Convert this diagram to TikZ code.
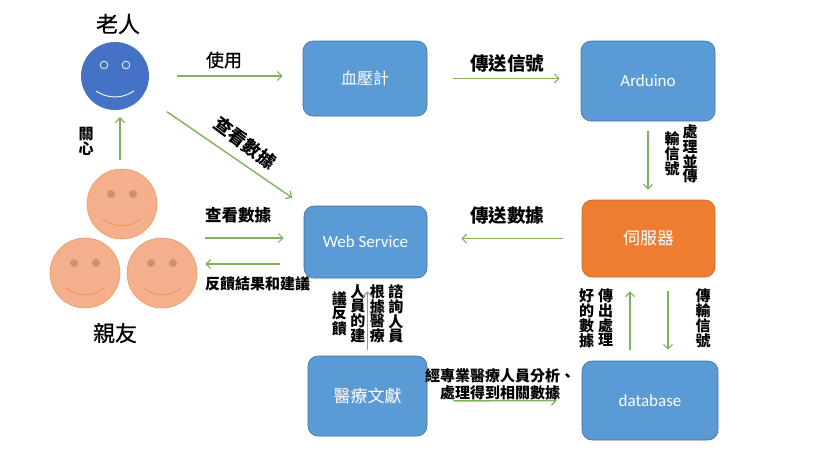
\documentclass[tikz,border=0pt]{standalone}
\usepackage{fontspec}
\setmainfont{Noto Sans CJK TC}
\newfontfamily\latinfont{Carlito}
\newfontfamily\midfont[FakeBold=0.6]{Noto Sans CJK TC}
\usetikzlibrary{arrows.meta}
\definecolor{boxblue}{HTML}{5B9BD5}
\definecolor{boxedge}{HTML}{41719C}
\definecolor{srvorange}{HTML}{ED7D31}
\definecolor{srvedge}{HTML}{C96A2A}
\definecolor{faceblue}{HTML}{4472C4}
\definecolor{facepeach}{HTML}{F4AF8C}
\definecolor{eyepeach}{HTML}{CB9273}
\definecolor{flowgreen}{HTML}{7FB25F}
\tikzset{
	flowbox/.style={draw=boxedge,fill=boxblue,rounded corners=10pt,text=white,inner sep=0pt,line width=.6pt},
	elderface/.style={circle,fill=faceblue,minimum size=68pt,inner sep=0pt},
	friendface/.style={circle,draw=srvorange!80!white,fill=facepeach,minimum size=70pt,inner sep=0pt,line width=.6pt},
	flow/.style={draw=flowgreen,line width=1.4pt,-{Straight Barb[length=4.5pt,width=9pt,line width=1.2pt]}},
	lbl/.style={font=\fontsize{15}{17}\selectfont\bfseries,inner sep=0pt,align=center},
	biglbl/.style={font=\fontsize{18.5}{20}\selectfont\bfseries,inner sep=0pt}
}
% one column of upright text, top to bottom
\newcommand{\vcol}[1]{\begin{tabular}{@{}c@{}}#1\end{tabular}}
\begin{document}
\begin{tikzpicture}[x=1pt,y=-1pt]
	\useasboundingbox (0,0) rectangle (817,474);
	% the boxes
	\node[flowbox,minimum width=124pt,minimum height=75pt,font=\fontsize{16}{18}\selectfont](meter) at (365,78.5) {血壓計};
	\node[flowbox,minimum width=134pt,minimum height=80pt,font=\fontsize{17}{19}\selectfont\latinfont](arduino) at (648,81) {Arduino};
	\node[flowbox,draw=srvedge,fill=srvorange,minimum width=133pt,minimum height=77pt,font=\fontsize{17}{19}\selectfont](server) at (648.5,238.5) {伺服器};
	\node[flowbox,minimum width=123pt,minimum height=72pt,font=\fontsize{17}{19}\selectfont\latinfont](web) at (365.5,242) {Web Service};
	\node[flowbox,minimum width=119pt,minimum height=80pt,font=\fontsize{17}{19}\selectfont](doc) at (367.5,396) {醫療文獻};
	\node[flowbox,minimum width=136pt,minimum height=79pt,font=\fontsize{17}{19}\selectfont\latinfont](db) at (650,400.5) {database};
	% the faces
	\node[elderface](elder) at (115,76) {};
	\node[friendface](ftop) at (122,204) {};
	\node[friendface](fleft) at (85,273) {};
	\node[friendface](fright) at (162,273) {};
	\foreach \s in {-11,11}
		\draw[draw=white!85!faceblue,line width=.9pt] ([shift={(\s,-11)}]elder.center) circle (3.8pt);
	\draw[white,line width=.9pt] ([shift={(-19,15)}]elder.center) .. controls ([shift={(-7,23)}]elder.center) and ([shift={(7,23)}]elder.center) .. ([shift={(19,15)}]elder.center);
	\foreach \f in {ftop,fleft,fright} {
		\foreach \s in {-11,11}
			\fill[eyepeach] ([shift={(\s,-10)}]\f.center) circle (4pt);
		\draw[srvorange!85!white,line width=.8pt] ([shift={(-19,15)}]\f.center) .. controls ([shift={(-7,24)}]\f.center) and ([shift={(7,24)}]\f.center) .. ([shift={(19,15)}]\f.center);
	}
	% this label lies under its arrow
	\node[lbl](advlbl) at (367.5,315.5) {\vcol{議\\[-3pt]反\\[-3pt]饋}\hspace{3.5pt}\vcol{人\\[-3pt]員\\[-3pt]的\\[-3pt]建}\hspace{4.5pt}\vcol{根\\[-3pt]據\\[-3pt]醫\\[-3pt]療}\hspace{3.5pt}\vcol{諮\\[-3pt]詢\\[-3pt]人\\[-3pt]員}};
	% the arrows
	\draw[flow,shorten <=28pt,shorten >=20pt] (elder.east) -- (meter.west |- elder.east);
	\draw[flow,shorten <=26pt,shorten >=21pt] (meter.east) -- (arduino.west |- meter.east);
	\draw[flow,shorten <=10pt,shorten >=10pt] (arduino.south) -- (arduino.south |- server.north);
	\draw[flow,shorten <=19pt,shorten >=34pt] (server.west) -- (web.east |- server.west);
	\draw[flow,shorten <=29pt,shorten >=14pt] (elder) -- (web.north west);
	\draw[flow,shorten <=9pt,shorten >=7pt] ([xshift=-2pt]ftop.north) -- ([xshift=5pt]elder.south);
	\coordinate (webin) at ([yshift=4pt]web.west);
	\coordinate (webout) at ([yshift=-22pt]web.west);
	\draw[flow,shorten <=8pt,shorten >=20pt] (fright.east |- webin) -- (webin);
	\draw[flow,shorten <=24pt,shorten >=8pt] (webout) -- (fright.east |- webout);
	\draw[flow,shorten <=6pt,shorten >=13pt] (doc.north) -- (doc.north |- web.south);
	\draw[flow,shorten <=11pt,shorten >=14pt] ([xshift=-20pt]db.north) -- ([xshift=-18.5pt]server.south);
	\draw[flow,shorten <=14pt,shorten >=11pt] ([xshift=19.5pt]server.south) -- ([xshift=18pt]db.north);
	\draw[flow,shorten <=26pt,shorten >=25pt] ([yshift=-5pt]doc.east) -- (db.west);
	% the labels
	\node[inner sep=0pt,font=\fontsize{22}{24}\selectfont\midfont](eldername) at (118,24) {老人};
	\node[inner sep=0pt,font=\fontsize{22}{24}\selectfont\midfont](friendname) at (115,333) {親友};
	\node[inner sep=0pt,font=\fontsize{18}{20}\selectfont\midfont](uselbl) at (224,60) {使用};
	\node[biglbl](sendlbl) at (507,63) {傳送信號};
	\node[biglbl](datalbl) at (507,215) {傳送數據};
	\node[biglbl,font=\fontsize{18}{20}\selectfont\bfseries,rotate=-37](checklbl) at (245,143) {查看數據};
	\node[lbl,font=\fontsize{16.5}{18}\selectfont\bfseries](viewlbl) at (238,215) {查看數據};
	\node[lbl](backlbl) at (257.5,284) {反饋結果和建議};
	\node[lbl](carelbl) at (86,143) {\vcol{關\\[-3pt]心}};
	\node[lbl](proclbl) at (681,156) {\vcol{輸\\[-3pt]信\\[-3pt]號}\hspace{3pt}\vcol{處\\[-3pt]理\\[-3pt]並\\[-3pt]傳}};
	\node[lbl](outlbl) at (596,320) {\vcol{好\\[-3pt]的\\[-3pt]數\\[-3pt]據}\hspace{4pt}\vcol{傳\\[-3pt]出\\[-3pt]處\\[-3pt]理}};
	\node[lbl](translbl) at (703,320) {\vcol{傳\\[-3pt]輸\\[-3pt]信\\[-3pt]號}};
	\node[lbl](prolbl) at (500,384) {經專業醫療人員分析、\\處理得到相關數據};
\end{tikzpicture}
\end{document}
